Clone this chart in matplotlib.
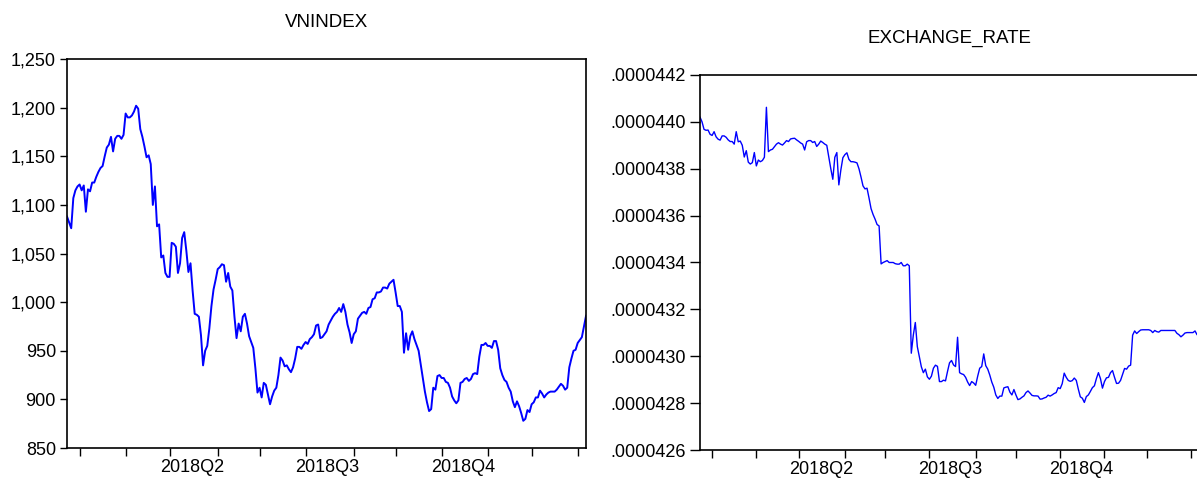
import numpy as np
import matplotlib
matplotlib.use('Agg')
from matplotlib import pyplot as plt
from matplotlib.ticker import FuncFormatter

plt.rcParams['font.family'] = ['Liberation Sans', 'DejaVu Sans']

# daily closes, one value per trading day
vnindex = [
    1088, 1082, 1076, 1107, 1115, 1119, 1121, 1115, 1120, 1093,
    1116, 1114, 1123, 1123, 1129, 1134, 1138, 1140, 1150, 1159,
    1162, 1170, 1155, 1168, 1171, 1171, 1168, 1172, 1194, 1190,
    1190, 1192, 1196, 1202, 1199, 1178, 1170, 1160, 1149, 1151,
    1142, 1100, 1119, 1078, 1080, 1046, 1048, 1030, 1026, 1026,
    1061, 1060, 1057, 1030, 1040, 1066, 1072, 1053, 1031, 1040,
    1012, 988, 987, 985, 966, 935, 950, 955, 973, 996,
    1013, 1023, 1034, 1036, 1039, 1038, 1021, 1030, 1016, 1012,
    985, 963, 978, 970, 985, 988, 978, 965, 959, 953,
    932, 907, 912, 902, 917, 915, 905, 895, 903, 909,
    912, 925, 943, 940, 934, 935, 931, 928, 933, 942,
    954, 954, 952, 956, 959, 957, 962, 964, 967, 976,
    977, 963, 964, 967, 970, 977, 981, 985, 988, 990,
    994, 990, 998, 990, 977, 969, 958, 967, 970, 983,
    986, 989, 990, 988, 994, 995, 1003, 1004, 1010, 1010,
    1011, 1015, 1015, 1014, 1019, 1021, 1023, 1010, 996, 996,
    990, 948, 968, 951, 965, 970, 962, 956, 950, 936,
    922, 908, 897, 888, 890, 912, 910, 924, 925, 922,
    922, 918, 917, 912, 903, 899, 896, 899, 917, 918,
    921, 922, 919, 921, 926, 927, 926, 944, 956, 956,
    958, 955, 955, 953, 960, 960, 951, 932, 925, 920,
    918, 912, 908, 898, 892, 898, 893, 886, 878, 880,
    889, 887, 895, 897, 902, 902, 909, 906, 902, 905,
    907, 908, 908, 908, 910, 913, 916, 914, 910, 912,
    933, 942, 950, 951, 958, 961, 964, 975, 986,
]

# USD per VND, in units of 1e-7
exchange_rate_e7 = [
    440.2, 440.0, 439.68, 439.64, 439.65, 439.47, 439.42, 439.58, 439.36, 439.26,
    439.22, 439.4, 439.4, 439.34, 439.23, 439.16, 439.16, 439.05, 439.58, 439.15,
    439.18, 439.0, 438.5, 438.77, 438.28, 438.2, 438.26, 438.69, 438.12, 438.37,
    438.3, 438.35, 438.49, 440.62, 438.73, 438.8, 438.83, 438.94, 439.05, 439.11,
    439.05, 439.01, 439.1, 439.2, 439.16, 439.27, 439.29, 439.3, 439.23, 439.17,
    439.1, 439.05, 438.8, 439.15, 439.2, 439.2, 439.12, 439.16, 438.95, 439.05,
    439.18, 439.12, 439.05, 439.0, 438.5, 438.0, 437.55, 438.49, 438.69, 437.31,
    437.95, 438.47, 438.6, 438.68, 438.4, 438.3, 438.3, 438.28, 438.25, 438.0,
    437.65, 437.27, 437.14, 437.17, 436.75, 436.3, 436.05, 435.85, 435.62, 435.56,
    433.94, 434.0, 434.04, 434.08, 434.0, 434.0, 434.0, 433.95, 433.93, 433.93,
    434.0, 433.86, 433.86, 433.93, 433.86, 430.13, 430.9, 431.44, 430.41, 429.99,
    429.55, 429.3, 429.45, 429.12, 429.02, 429.15, 429.49, 429.62, 429.57, 428.92,
    428.92, 428.98, 428.95, 429.35, 429.72, 429.82, 429.63, 429.56, 430.81, 429.3,
    429.25, 429.22, 429.1, 428.9, 428.75, 428.92, 428.86, 428.76, 429.15, 429.49,
    429.56, 430.1, 429.6, 429.45, 429.2, 428.9, 428.68, 428.35, 428.2, 428.3,
    428.3, 428.65, 428.68, 428.7, 428.47, 428.35, 428.58, 428.35, 428.15, 428.18,
    428.25, 428.31, 428.45, 428.52, 428.43, 428.33, 428.31, 428.31, 428.3, 428.17,
    428.18, 428.22, 428.25, 428.34, 428.3, 428.35, 428.41, 428.45, 428.66, 428.62,
    428.83, 429.28, 429.1, 428.97, 428.93, 428.96, 429.07, 428.97, 428.6, 428.27,
    428.21, 428.03, 428.28, 428.35, 428.5, 428.66, 428.74, 429.05, 429.3, 429.05,
    428.64, 428.92, 429.08, 429.1, 429.3, 429.39, 429.1, 428.84, 428.85, 428.97,
    429.23, 429.48, 429.45, 429.58, 429.62, 430.9, 431.08, 430.97, 431.05, 431.12,
    431.13, 431.13, 431.13, 431.13, 431.1, 431.01, 431.1, 431.05, 431.03, 431.1,
    431.1, 431.1, 431.1, 431.1, 431.1, 431.1, 431.1, 430.98, 430.92, 430.83,
    430.9, 430.99, 431.01, 431.01, 431.01, 431.01, 431.08, 430.92, 430.95,
]
exchange_rate = np.array(exchange_rate_e7) * 1e-7

# trading-day index of the first session of each month (Mar 2018 .. Feb 2019)
month_starts = [6, 28, 49, 72, 92, 114, 137, 157, 179, 201, 222, 244]
quarter_labels = ['2018Q2', '2018Q3', '2018Q4']

fig = plt.figure(figsize=(11.97, 4.79), dpi=100)
ax1 = fig.add_axes([0.056, 0.0647, 0.4336, 0.812])
ax2 = fig.add_axes([0.5848, 0.0605, 0.4169, 0.783])


def style_axes(ax, n):
    ax.set_xlim(0, n - 1)
    ax.set_xticks(month_starts)
    ax.set_xticklabels([])
    q = month_starts[1::3]
    ax.set_xticks([(a + b) / 2 for a, b in zip(q[:-1], q[1:])], minor=True)
    ax.set_xticklabels(quarter_labels, minor=True)
    ax.tick_params(axis='x', which='major', direction='out', length=6, width=1)
    ax.tick_params(axis='x', which='minor', length=0, pad=8, labelsize=13)
    ax.tick_params(axis='y', direction='out', length=5, width=1, pad=3, labelsize=13)
    for s in ax.spines.values():
        s.set_linewidth(1.2)


day = np.arange(len(vnindex))
ax1.plot(day, vnindex, color='#0000ff', linewidth=1.4)
style_axes(ax1, len(vnindex))
ax1.set_ylim(850, 1250)
ax1.set_yticks(np.arange(850, 1251, 50))
ax1.yaxis.set_major_formatter(FuncFormatter(lambda v, p: f'{v:,.0f}'))
ax1.set_title('VNINDEX', fontsize=13.5, pad=23)

day2 = np.arange(len(exchange_rate))
ax2.plot(day2, exchange_rate, color='#0000ff', linewidth=1.0)
style_axes(ax2, len(exchange_rate))
ax2.set_ylim(4.26e-5, 4.42e-5)
ax2.set_yticks(np.arange(426, 443, 2) * 1e-7)
ax2.yaxis.set_major_formatter(FuncFormatter(lambda v, p: f'{v:.7f}'.lstrip('0')))
ax2.tick_params(axis='y', length=7, pad=3)
ax2.set_title('EXCHANGE_RATE', fontsize=13.5, pad=23)

fig.savefig('out.png', dpi=100)
